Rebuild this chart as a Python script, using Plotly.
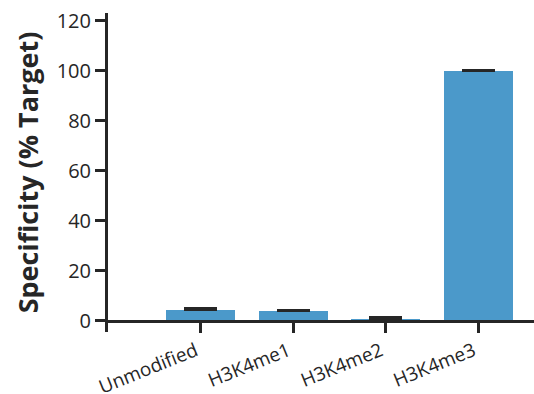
import plotly.graph_objects as go

categories = ["Unmodified", "H3K4me1", "H3K4me2", "H3K4me3"]
values = [4.3, 3.9, 0.6, 99.8]
errors = [0.8, 0.6, 0.8, 0.7]
y_ticks = [0, 20, 40, 60, 80, 100, 120]

axis_color = "#262626"
bar_color = "#4b99ca"

y_lo, y_hi = -4.5, 123.1
zero_pos = (0 - y_lo) / (y_hi - y_lo)

fig = go.Figure()
fig.add_trace(go.Bar(
    x=list(range(len(categories))),
    y=values,
    width=0.745,
    marker=dict(color=bar_color, line=dict(width=0)),
    error_y=dict(type="data", symmetric=False, array=errors,
                 arrayminus=[0] * len(errors),
                 color=axis_color, thickness=2, width=16.5),
))

fig.update_layout(
    width=534, height=394,
    margin=dict(l=108, r=0, t=13, b=62),
    paper_bgcolor="white", plot_bgcolor="white",
    showlegend=False,
    font=dict(family="Open Sans", color=axis_color),
    bargap=0,
    xaxis=dict(
        range=[-1.0, 3.6],
        tickmode="array",
        tickvals=list(range(len(categories))),
        ticktext=categories,
        tickangle=-22,
        tickfont=dict(size=19, color=axis_color),
        ticklabelshift=-5,
        showline=True, linecolor=axis_color, linewidth=3,
        ticks="outside", ticklen=10, tickwidth=3, tickcolor=axis_color,
        showgrid=False, zeroline=False,
        anchor="free", position=zero_pos,
        automargin=False,
    ),
    yaxis=dict(
        range=[y_lo, y_hi],
        tickvals=y_ticks,
        tickfont=dict(size=20, color=axis_color),
        showline=True, linecolor=axis_color, linewidth=3,
        ticks="outside", ticklen=10, tickwidth=3, tickcolor=axis_color,
        showgrid=False, zeroline=False,
        automargin=False,
        title=dict(text="<b>Specificity (% Target)</b>",
                   font=dict(size=27, color=axis_color), standoff=11),
    ),
)

fig.write_html("out.html")
